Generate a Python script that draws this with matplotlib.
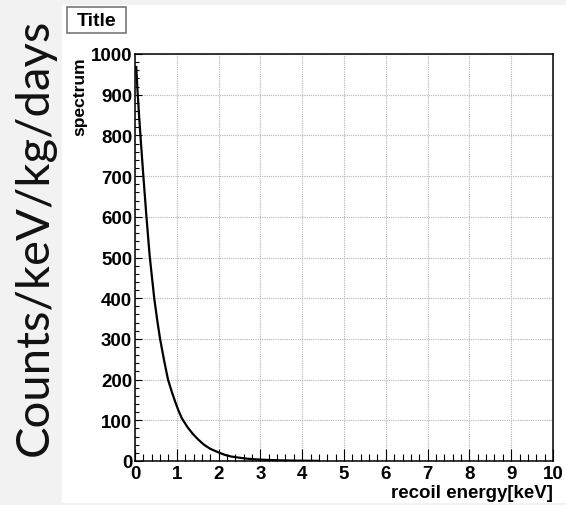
import matplotlib
matplotlib.use('Agg')
import matplotlib.pyplot as plt
from matplotlib.patches import Rectangle
from matplotlib.ticker import MultipleLocator

# recoil spectrum points (energy in keV, counts)
energy = [0.03, 0.06, 0.10, 0.14, 0.20, 0.27, 0.35, 0.46, 0.53, 0.60, 0.70,
          0.79, 0.88, 0.96, 1.04, 1.12, 1.25, 1.38, 1.50, 1.65, 1.80, 2.00,
          2.15, 2.30, 2.50, 2.70, 2.90, 3.20, 3.50, 3.90, 4.40]
counts = [968, 910, 845, 785, 700, 605, 505, 400, 347, 300, 245,
          200, 170, 146, 124, 105, 84, 67, 54, 40, 30, 21,
          15, 11, 8, 5.5, 4, 2.5, 1.5, 0.8, 0.3]

x_ticks = [0, 1, 2, 3, 4, 5, 6, 7, 8, 9, 10]
y_ticks = [0, 100, 200, 300, 400, 500, 600, 700, 800, 900, 1000]

W, H = 566, 506
fig = plt.figure(figsize=(W / 100, H / 100), dpi=100)
fig.patch.set_facecolor('#f2f2f2')
fig.patches.append(Rectangle((62 / W, 2 / H), 1 - 62 / W, (500 - 2) / H,
                             transform=fig.transFigure, facecolor='white',
                             edgecolor='none', zorder=-5))

ax = fig.add_axes([135 / W, (H - 462) / H, (553 - 135) / W, (462 - 55) / H])
ax.set_zorder(2)
ax.set_facecolor('white')
ax.plot(energy, counts, color='black', lw=1.6, zorder=3)

ax.set_xlim(0, 10)
ax.set_ylim(0, 1000)
ax.set_xticks(x_ticks)
ax.set_yticks(y_ticks)
ax.xaxis.set_minor_locator(MultipleLocator(0.2))
ax.yaxis.set_minor_locator(MultipleLocator(20))

lab = dict(family='Liberation Sans', weight='bold', size=13.5)
ax.set_xticklabels([str(v) for v in x_ticks], **lab)
ax.set_yticklabels([str(v) for v in y_ticks], **lab)

ax.tick_params(axis='x', which='major', direction='in', length=8.5, width=0.8, pad=3)
ax.tick_params(axis='x', which='minor', direction='in', length=5, width=0.8)
ax.tick_params(axis='y', which='major', direction='in', length=5, width=0.8, pad=2)
ax.tick_params(axis='y', which='minor', direction='in', length=3.2, width=0.8)

ax.grid(True, which='major', color='#b5b5b5', lw=0.8, linestyle=(0, (1, 1)))
for s in ax.spines.values():
    s.set_linewidth(1.1)
    s.set_color('black')

ax.text(1.0, -0.0885, 'recoil energy[keV]', transform=ax.transAxes,
        ha='right', va='baseline', **lab)
ax.text(-0.1316, 0.995, 'spectrum', transform=ax.transAxes, rotation=90,
        rotation_mode='anchor', ha='right', va='center',
        family='Liberation Sans', weight='bold', size=12.5)

# title box
fig.patches.append(Rectangle((67 / W, (H - 34) / H), 59 / W, 26 / H,
                             transform=fig.transFigure, facecolor='white',
                             edgecolor='#777777', lw=1.2, zorder=3))
fig.text(96.5 / W, (H - 21) / H, 'Title', ha='center', va='center',
         family='Liberation Sans', weight='bold', size=14, zorder=4)

fig.text(35 / W, (H - 237) / H, 'Counts/keV/kg/days', rotation=90,
         ha='center', va='center', family='Lato', size=34, color='#111111')

fig.savefig('out.png', dpi=100)
